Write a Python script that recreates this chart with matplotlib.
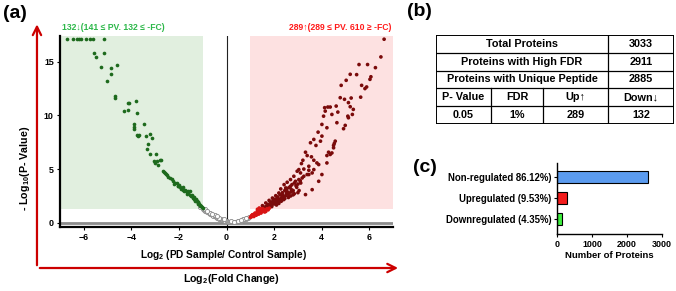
import numpy as np
import matplotlib
matplotlib.use("Agg")
import matplotlib.pyplot as plt
from matplotlib import font_manager as fm
from matplotlib.patches import Rectangle, FancyArrowPatch

# ---------------- data ----------------
# down-regulated (green)
down_x = [-6.72, -6.47, -6.29, -6.2, -6.1, -5.92, -5.75, -5.6, -5.15,
          -5.57, -5.5, -5.15, -5.29, -4.875, -4.6, -4.875, -5.01, -4.69, -4.69,
          -4.15, -4.08, -3.8, -4.33, -4.14, -3.76, -3.9, -3.875, -3.9, -3.45,
          -3.76, -3.72, -3.67, -3.375, -3.2, -3.14, -3.32, -3.35, -3.2, -2.96,
          -3.04, -2.9, -2.75, -2.625, -2.54,
          -2.65, -2.58, -2.51, -2.375, -2.3, -2.24, -2.17, -2.1, -2.03, -1.96,
          -1.89, -1.82, -1.75, -1.68, -1.61, -1.54, -1.47, -1.4, -1.33, -1.26,
          -1.19, -1.125, -1.06, -0.99,
          -1.71, -1.54, -1.35, -1.3, -1.2, -1.28, -1.45, -1.6, -1.85, -2.0,
          -2.93, -2.79, -3.0,
          -1.38, -1.42, -1.25, -1.22, -1.15, -1.1, -1.05, -1.5, -1.65, -1.78,
          -1.92, -2.06, -2.2, -2.45, -1.32, -1.18]
down_y = [17.1, 17.1, 17.1, 17.1, 17.1, 17.1, 17.1, 17.1, 17.1,
          15.8, 15.45, 15.8, 14.55, 14.45, 14.74, 13.83, 13.2, 11.8, 11.6,
          11.19, 11.2, 11.34, 10.4, 10.5, 10.19, 9.16, 8.94, 8.69, 9.16,
          8.22, 8.07, 8.13, 8.07, 8.29, 7.9, 7.29, 6.89, 6.45, 6.45,
          5.73, 5.42, 5.82, 4.7, 4.58,
          4.79, 4.64, 4.48, 4.17, 4.07, 3.86, 3.7, 3.7, 3.46, 3.33,
          3.24, 3.08, 3.02, 2.83, 2.77, 2.62, 2.46, 2.3, 2.15, 1.99,
          1.78, 1.68, 1.53, 1.37,
          2.93, 2.93, 2.4, 2.25, 1.9, 2.1, 2.55, 2.95, 3.3, 3.55,
          5.73, 5.89, 5.6,
          2.2, 2.35, 2.0, 1.85, 1.75, 1.6, 1.45, 2.5, 2.7, 2.95,
          3.15, 3.4, 3.6, 4.3, 2.05, 1.95]

# up-regulated (red)
up_x = [6.625, 6.49, 6.26, 5.93, 5.57, 6.07, 6.03, 5.2, 5.47, 5.03, 4.82, 5.68,
        5.82, 5.89, 4.78, 5.24, 5.64, 4.61, 4.26, 4.36, 4.125, 5.125, 5.2, 5.33,
        5.29, 4.68, 4.43, 4.15, 4.08, 4.01, 4.22, 4.64, 4.99, 4.92, 5.125, 5.1,
        3.85, 4.01, 3.67, 3.53, 3.95, 4.57, 4.53, 4.96,
        3.76, 4.5, 4.29, 4.22, 3.32, 3.39, 3.57, 3.67, 3.8, 3.875, 3.21, 3.15,
        3.46, 3.04, 3.25, 3.46, 3.39, 3.25, 3.6, 3.11, 2.97, 2.83, 2.69, 2.55,
        2.42, 2.9, 3.04, 3.18, 2.69, 2.49, 2.28, 2.2, 2.07, 1.93, 1.79, 1.65,
        1.51, 1.375,
        3.32, 3.6, 3.875, 4.01, 4.22, 4.36, 4.5, 4.43, 3.67, 3.46,
        1.55, 1.6, 1.7, 1.75, 1.8, 1.85, 1.9, 1.95, 2.0, 2.05, 2.1, 2.15, 2.2,
        2.25, 2.3, 2.35, 2.4, 2.45, 2.5, 2.55, 2.6, 2.65, 2.7, 2.75, 2.8, 2.85,
        2.95, 3.0, 3.1, 2.6, 2.4, 2.2, 2.8, 3.0, 2.1, 1.9, 2.3, 2.7, 1.65, 2.55,
        2.35, 2.15, 1.95,
        2.12, 2.32, 2.52, 2.72, 2.92, 3.12, 1.88, 1.72, 2.62, 2.45, 2.85, 3.05,
        2.25, 2.05, 1.82, 1.68, 2.78, 2.58, 2.38, 2.18,
        1.0, 1.05, 1.1, 1.15, 1.2, 1.25, 1.3, 1.35, 1.4, 1.45, 1.1, 1.2, 1.3,
        1.4, 1.5, 1.55, 1.6, 1.7, 1.5, 1.05, 1.15, 1.25, 1.35, 1.45, 1.6, 1.75,
        1.8, 1.3, 1.65, 1.55, 1.42, 1.28, 1.18, 1.08]
up_y = [17.1, 15.45, 14.45, 14.74, 14.74, 13.6, 13.36, 13.83, 13.8, 13.27, 12.8, 12.8,
        12.5, 12.65, 11.65, 11.62, 11.7, 10.87, 10.78, 10.78, 10.72, 11.19, 10.81, 10.56,
        10.09, 10.31, 10.09, 10.4, 9.93, 9.16, 8.85, 9.32, 9.07, 8.76, 9.78, 9.93,
        8.44, 8.07, 7.76, 7.45, 7.6, 7.6, 7.38, 11.5,
        7.2, 7.2, 6.57, 6.26, 6.57, 6.26, 6.14, 5.82, 5.57, 5.42, 5.82, 5.51,
        5.26, 4.95, 5.0, 4.89, 4.49, 4.33, 4.64, 4.64, 4.8, 4.33, 4.02, 3.77,
        3.55, 3.86, 4.02, 4.17, 3.4, 3.24, 3.15, 2.77, 2.52, 2.3, 2.08, 1.84,
        1.59, 1.37,
        2.62, 3.08, 3.86, 4.49, 5.57, 6.36, 6.98, 6.5, 4.95, 4.49,
        1.45, 1.3, 1.5, 1.7, 1.45, 1.9, 1.6, 2.05, 1.75, 2.2, 1.9, 2.4, 2.05,
        2.6, 2.25, 2.8, 2.4, 3.0, 2.55, 3.2, 2.7, 3.3, 2.85, 3.55, 3.0, 3.7,
        3.3, 3.6, 3.9, 2.35, 2.15, 1.8, 2.6, 2.8, 1.65, 1.5, 2.0, 2.5, 1.5, 2.9,
        2.6, 2.3, 1.85,
        2.05, 2.35, 2.75, 3.1, 3.45, 3.7, 1.75, 1.6, 2.45, 2.25, 2.7, 3.0,
        2.15, 1.95, 1.55, 1.4, 2.95, 2.75, 2.5, 2.2,
        0.5, 0.55, 0.62, 0.7, 0.78, 0.85, 0.95, 1.05, 1.15, 1.25, 0.75, 0.9, 1.1,
        0.95, 1.05, 1.15, 1.2, 1.3, 1.3, 0.65, 0.58, 0.7, 0.8, 0.9, 1.0, 1.2,
        1.35, 1.25, 1.05, 1.25, 1.05, 0.88, 0.82, 0.72]

# not significant (grey, open)
ns_x = [-1.1, -1.0, -0.95, -0.9, -0.85, -0.8, -0.75, -0.7, -0.65, -0.6, -0.55,
        -0.5, -0.45, -0.4, -0.35, -0.3, -0.25, -0.2, -0.15, -0.1, -0.05, 0.0,
        0.05, 0.1, 0.15, 0.2, 0.25, 0.3, 0.35, 0.4, 0.45, 0.5, 0.55, 0.6, 0.65,
        0.7, 0.75, 0.8, 0.85, 0.9, 0.95, -0.9, -0.7, -0.5, 0.5, 0.7, 0.2, -0.3,
        -0.82, -0.62, -0.42, -0.12, 0.32, 0.62, 0.82]
ns_y = [1.45, 1.3, 1.2, 1.12, 1.05, 0.98, 0.92, 0.85, 0.78, 0.72, 0.65,
        0.6, 0.54, 0.48, 0.42, 0.37, 0.32, 0.28, 0.24, 0.2, 0.17, 0.14,
        0.11, 0.09, 0.07, 0.06, 0.05, 0.05, 0.06, 0.07, 0.09, 0.12, 0.15, 0.19, 0.23,
        0.27, 0.31, 0.36, 0.41, 0.46, 0.52, 1.25, 0.95, 0.7, 0.2, 0.35, 0.12, 0.45,
        1.1, 0.85, 0.62, 0.3, 0.1, 0.28, 0.45]

fc_threshold = 1.0
p_threshold = 1.3   # -log10(0.05)

x_ticks = [-6, -4, -2, 0, 2, 4, 6]
y_ticks = [0, 5, 10, 15]

down_text = "132\u2193(141 \u2264 PV. 132 \u2264 -FC)"
up_text = "289\u2191(289 \u2264 PV. 610 \u2265 -FC)"

# table (b)
table_labels = ["Total Proteins", "Proteins with High FDR", "Proteins with Unique Peptide"]
table_values = ["3033", "2911", "2885"]
table_header = ["P- Value", "FDR", "Up\u2191", "Down\u2193"]
table_row = ["0.05", "1%", "289", "132"]

# bar chart (c)
bar_categories = ["Non-regulated 86.12%)", "Upregulated (9.53%)", "Downregulated (4.35%)"]
bar_values = [2612, 289, 132]
bar_colors = ["#5b9bef", "#f41c1c", "#3ef03e"]
bar_ticks = [0, 1000, 2000, 3000]

# ---------------- fonts ----------------
names = {f.name for f in fm.fontManager.ttflist}
if "Liberation Sans Narrow" in names:
    NARROW = ["Liberation Sans Narrow", "DejaVu Sans"]
    nscale = 1.0
else:
    NARROW = ["Liberation Sans", "DejaVu Sans"]
    nscale = 0.85
WIDE = ["Liberation Sans", "DejaVu Sans"]
plt.rcParams["font.family"] = WIDE
plt.rcParams["mathtext.default"] = "regular"

fig = plt.figure(figsize=(6.76, 2.91), dpi=100)

# ---------------- (a) volcano ----------------
ax = fig.add_axes([0.0888, 0.2199, 0.4926, 0.6564])
xmin, xmax = -7, 7
ymin, ymax = -0.4, 17.4
ax.set_xlim(xmin, xmax)
ax.set_ylim(ymin, ymax)
ax.add_patch(Rectangle((xmin, p_threshold), -fc_threshold - xmin, ymax - p_threshold,
                       facecolor="#e1efdf", edgecolor="none", zorder=0))
ax.add_patch(Rectangle((fc_threshold, p_threshold), xmax - fc_threshold, ymax - p_threshold,
                       facecolor="#fde1e1", edgecolor="none", zorder=0))
ax.axhline(0, color="#8c8c8c", lw=2.0, zorder=1)
ax.axvline(0, color="#222222", lw=0.8, zorder=1)

ax.scatter(ns_x, ns_y, s=9, facecolors="white", edgecolors="#8a8a8a", linewidths=0.6, zorder=2)
ax.scatter(down_x, down_y, s=7, color="#1d6a1d", linewidths=0, zorder=3)
up_cols = ["#d81414" if (yy < 1.4) else "#7a0a0a" for yy in up_y]
ax.scatter(up_x, up_y, s=7, color=up_cols, linewidths=0, zorder=3)

for s in ["top", "right"]:
    ax.spines[s].set_visible(False)
for s in ["left", "bottom"]:
    ax.spines[s].set_linewidth(1.6)
ax.set_xticks(x_ticks)
ax.set_yticks(y_ticks)
ax.tick_params(direction="out", length=2.5, width=0.8, pad=2)
for lab in ax.get_xticklabels() + ax.get_yticklabels():
    lab.set_fontfamily(NARROW)
    lab.set_fontweight("bold")
    lab.set_fontsize(7.5 * nscale)
ax.set_xlabel("Log$_2$ (PD Sample/ Control Sample)", family=NARROW, weight="bold",
              fontsize=8.6 * nscale)
ax.xaxis.set_label_coords(0.491, -0.11)

ax.text(0.159, 1.042, down_text, transform=ax.transAxes, ha="center", va="center",
        color="#2db84a", fontsize=7.3 * nscale, weight="bold", family=NARROW)
ax.text(0.841, 1.042, up_text, transform=ax.transAxes, ha="center", va="center",
        color="#ff1a1a", fontsize=7.3 * nscale, weight="bold", family=NARROW)

fig.text(0.037, 0.42, "- Log$_{10}$(P- Value)", rotation=90, ha="center", va="center",
         family=NARROW, weight="bold", fontsize=9 * nscale)
fig.text(0.343, 0.041, "Log$_2$(Fold Change)", ha="center", va="center",
         family=NARROW, weight="bold", fontsize=9 * nscale)

red = "#cc0000"
fig.add_artist(FancyArrowPatch((0.0547, 0.079), (0.0547, 0.926), transform=fig.transFigure,
                               arrowstyle="->,head_length=0.6,head_width=0.3",
                               mutation_scale=10, color=red, lw=1.6))
fig.add_artist(FancyArrowPatch((0.0547, 0.079), (0.593, 0.079), transform=fig.transFigure,
                               arrowstyle="->,head_length=0.6,head_width=0.3",
                               mutation_scale=10, color=red, lw=1.6))

# ---------------- (b) table ----------------
axt = fig.add_axes([0.645, 0.574, 0.352, 0.306])
axt.set_xlim(0, 1)
axt.set_ylim(0, 5)
axt.axis("off")
col_edges = [0.0, 0.231, 0.450, 0.723, 1.0]
nrows = 5
for i in range(nrows + 1):
    lw = 1.4 if i in (0, nrows) else 0.9
    axt.plot([0, 1], [i, i], color="black", lw=lw, solid_capstyle="projecting")
axt.plot([0, 0], [0, 5], color="black", lw=1.4)
axt.plot([1, 1], [0, 5], color="black", lw=1.4)
axt.plot([col_edges[3], col_edges[3]], [0, 5], color="black", lw=0.9)
axt.plot([col_edges[1], col_edges[1]], [0, 2], color="black", lw=0.9)
axt.plot([col_edges[2], col_edges[2]], [0, 2], color="black", lw=0.9)
tfs = 7.8
for i, (lab, val) in enumerate(zip(table_labels, table_values)):
    yc = nrows - i - 0.5
    axt.text(col_edges[3] / 2, yc, lab, ha="center", va="center", fontsize=tfs, weight="bold")
    axt.text((col_edges[3] + 1) / 2, yc, val, ha="center", va="center", fontsize=tfs, weight="bold")
for j in range(4):
    xc = (col_edges[j] + col_edges[j + 1]) / 2
    axt.text(xc, 1.5, table_header[j], ha="center", va="center", fontsize=tfs, weight="bold",
             family=WIDE)
    axt.text(xc, 0.5, table_row[j], ha="center", va="center", fontsize=tfs, weight="bold")

# ---------------- (c) bars ----------------
axb = fig.add_axes([0.824, 0.1959, 0.155, 0.244])
pos = np.arange(len(bar_categories))
axb.barh(pos, bar_values, height=0.55, color=bar_colors, edgecolor="black", linewidth=0.8)
axb.set_xlim(0, 3000)
axb.set_ylim(2.7, -0.67)
axb.set_yticks(pos)
axb.set_yticklabels(bar_categories, fontsize=6.9, weight="bold")
axb.set_xticks(bar_ticks)
axb.set_xticklabels([str(t) for t in bar_ticks], fontsize=6.4, weight="bold")
for s in ["top", "right"]:
    axb.spines[s].set_visible(False)
for s in ["left", "bottom"]:
    axb.spines[s].set_linewidth(1.0)
axb.tick_params(direction="out", length=2.5, width=0.8, pad=1.5)
axb.set_xlabel("Number of Proteins", fontsize=6.8, weight="bold", labelpad=2)

# ---------------- panel labels ----------------
fig.text(0.004, 0.955, "(a)", fontsize=14, weight="bold", va="center", ha="left")
fig.text(0.602, 0.959, "(b)", fontsize=14, weight="bold", va="center", ha="left")
fig.text(0.611, 0.426, "(c)", fontsize=14, weight="bold", va="center", ha="left")

fig.savefig("out.png", dpi=100)
